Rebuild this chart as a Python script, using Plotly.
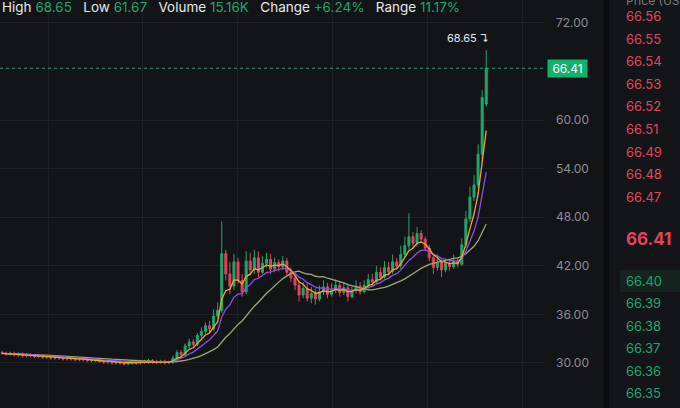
import plotly.graph_objects as go
import pandas as pd

closes = [31.2,31.1,31.2,31.0,31.1,30.9,31.0,30.9,30.8,30.9,30.7,30.8,30.6,30.7,30.6,30.5,30.6,30.5,30.4,30.5,30.4,30.3,30.4,30.3,30.2,
          30.1,30.2,30.0,30.1,30.0,29.9,30.0,30.1,30.0,30.2,30.1,30.3,30.2,30.1,30.2,30.0,30.1,
          30.6,31.3,31.0,32.1,32.6,32.3,33.4,33.9,34.6,34.2,35.8,36.5,
          43.5,41.0,39.5,42.5,40.2,38.8,42.6,41.5,43.0,41.2,42.3,42.8,41.6,42.4,41.9,42.6,41.2,
          40.5,39.6,38.4,39.2,38.0,38.6,37.9,38.8,39.4,38.5,39.0,39.6,38.7,39.3,38.2,39.0,39.5,38.8,
          39.6,40.3,40.0,41.2,40.6,41.8,41.3,42.5,42.0,43.4,
          44.5,45.6,44.8,46.0,45.3,
          44.2,43.0,41.8,42.4,41.5,42.3,41.9,42.6,42.2,
          44.6,47.8,50.5,52.0,55.8,62.8,66.41]
opens = [31.3,31.2,31.1,31.2,31.0,31.1,30.9,31.0,30.9,30.8,30.9,30.7,30.8,30.6,30.7,30.6,30.5,30.6,30.5,30.4,30.5,30.4,30.3,30.4,30.3,
         30.2,30.1,30.2,30.0,30.1,30.0,29.9,30.0,30.1,30.0,30.2,30.1,30.3,30.2,30.1,30.2,30.0,
         30.1,30.6,31.3,31.0,32.1,32.6,32.3,33.4,33.9,34.6,34.2,35.8,
         36.5,43.5,41.0,39.5,42.5,40.2,38.8,42.6,41.5,43.0,41.2,42.3,42.8,41.6,42.4,41.9,42.6,
         41.2,40.5,39.6,38.4,39.2,38.0,38.6,37.9,38.8,39.4,38.5,39.0,39.6,38.7,39.3,38.2,39.0,39.5,
         38.8,39.6,40.3,40.0,41.2,40.6,41.8,41.3,42.5,42.0,
         43.4,44.5,45.6,44.8,46.0,
         45.3,44.2,43.0,41.8,42.4,41.5,42.3,41.9,42.6,
         42.2,44.6,47.8,50.5,52.0,55.8,62.0]
highs = [31.5,31.4,31.4,31.4,31.3,31.3,31.2,31.2,31.1,31.1,31.1,31.0,31.0,30.9,30.9,30.8,30.8,30.8,30.7,30.7,30.7,30.6,30.6,30.6,30.5,
         30.4,30.4,30.4,30.3,30.3,30.2,30.2,30.3,30.3,30.4,30.4,30.5,30.5,30.4,30.4,30.4,30.3,
         30.9,31.6,31.6,32.4,33.0,32.9,33.7,34.4,35.0,35.2,36.6,37.5,
         47.5,44.0,42.5,43.5,43.0,41.0,43.8,43.6,44.0,43.8,43.2,43.6,43.5,43.0,42.8,43.2,43.0,
         41.8,41.0,40.2,40.0,39.8,39.4,39.2,39.6,40.2,39.9,39.8,40.3,40.0,39.9,39.8,39.6,40.2,40.0,
         40.2,41.0,41.0,42.0,41.8,42.6,42.5,43.4,43.0,44.5,
         45.6,48.5,46.2,46.8,46.4,
         45.6,44.6,43.2,43.4,42.8,42.9,42.8,43.4,43.0,
         45.4,48.8,51.8,53.2,57.0,63.7,68.65]
lows = [31.0,30.9,30.9,30.8,30.8,30.7,30.7,30.7,30.6,30.6,30.5,30.5,30.4,30.4,30.4,30.3,30.3,30.3,30.2,30.2,30.2,30.1,30.1,30.1,30.0,
        29.9,29.9,29.8,29.8,29.8,29.7,29.7,29.8,29.8,29.8,29.9,29.9,29.9,29.9,29.9,29.8,29.9,
        29.9,30.3,30.6,30.8,31.6,32.0,32.1,33.1,33.6,33.8,34.0,35.5,
        36.2,40.2,38.5,39.0,39.8,38.2,38.5,40.8,41.0,40.6,41.0,41.8,41.0,41.2,41.3,41.5,40.8,
        40.0,39.0,37.6,38.0,37.6,37.4,37.2,37.6,38.4,38.0,38.2,38.6,38.2,38.4,37.6,38.0,38.6,38.4,
        38.6,39.2,39.4,39.8,40.2,40.4,40.8,41.0,41.6,41.6,
        43.0,44.0,44.2,44.4,44.8,
        43.8,42.6,41.0,41.4,40.6,41.2,41.4,41.6,41.8,
        42.0,44.2,47.4,50.0,51.6,55.0,61.67]
y_ticks = [30, 36, 42, 48, 54, 60, 72]
ask_prices = ["66.56","66.55","66.54","66.53","66.52","66.51","66.49","66.48","66.47"]
bid_prices = ["66.40","66.39","66.38","66.37","66.36","66.35"]
last_price = 66.41
header = [("High","68.65"),("Low","61.67"),("Volume","15.16K"),("Change","+6.24%"),("Range","11.17%")]

idx = list(range(len(closes)))
s = pd.Series(closes)
ma_fast = s.ewm(span=5, adjust=False).mean()
ma_mid = s.ewm(span=10, adjust=False).mean()
ma_slow = s.rolling(20, min_periods=1).mean()

BG = "#131418"
GREEN = "#1fa76b"
RED = "#e2455a"

fig = go.Figure()
fig.add_trace(go.Candlestick(x=idx, open=opens, high=highs, low=lows, close=closes,
                             increasing=dict(line=dict(color=GREEN, width=1), fillcolor=GREEN),
                             decreasing=dict(line=dict(color=RED, width=1), fillcolor=RED),
                             whiskerwidth=0, showlegend=False, hoverinfo="skip"))
fig.add_trace(go.Scatter(x=idx, y=ma_slow, mode="lines", line=dict(color="#9aa873", width=1.3), showlegend=False))
fig.add_trace(go.Scatter(x=idx, y=ma_mid, mode="lines", line=dict(color="#8b4fe6", width=1.3), showlegend=False))
fig.add_trace(go.Scatter(x=idx, y=ma_fast, mode="lines", line=dict(color="#f0a433", width=1.3), showlegend=False))

fig.add_hline(y=last_price, line=dict(color=GREEN, width=1, dash="dot"))

ann = []
parts = [f"<span style='color:#e6e8ec'>{k}</span> <span style='color:{GREEN}'>{v}</span>" for k, v in header]
ann.append(dict(xref="paper", yref="paper", x=0, y=1, xanchor="left", yanchor="top", yshift=3,
                text="&nbsp;&nbsp;&nbsp;".join(parts), showarrow=False, font=dict(size=13.5, family="Inter")))
ann.append(dict(xref="paper", yref="y", x=0.805, y=last_price, xanchor="left", text=" 66.41 ",
                showarrow=False, bgcolor="#10b26c", font=dict(color="white", size=12, family="Inter")))
ann.append(dict(xref="x", yref="y", x=len(closes)-1, y=68.65, xanchor="right", yanchor="bottom", xshift=5, yshift=3,
                text="68.65 ↴", showarrow=False, font=dict(color="#e6e8ec", size=11, family="Inter")))
ann.append(dict(xref="paper", yref="paper", x=0.918, y=1.0, xanchor="left", yanchor="middle",
                text="Price (USD)", showarrow=False, font=dict(color="#777a80", size=12, family="Inter")))
for k, p in enumerate(ask_prices):
    ann.append(dict(xref="paper", yref="paper", x=0.918, y=1 - (16 + k * 22.6) / 408, xanchor="left", yanchor="middle",
                    text=p, showarrow=False, font=dict(color=RED, size=13, family="Inter")))
ann.append(dict(xref="paper", yref="paper", x=0.918, y=1 - 239 / 408, xanchor="left", yanchor="middle",
                text="<b>66.41</b>", showarrow=False, font=dict(color=RED, size=17, family="Inter")))
for k, p in enumerate(bid_prices):
    ann.append(dict(xref="paper", yref="paper", x=0.918, y=1 - (281 + k * 22.4) / 408, xanchor="left", yanchor="middle",
                    text=p, showarrow=False, font=dict(color=GREEN, size=13, family="Inter")))

fig.add_shape(type="rect", xref="paper", yref="paper", x0=0.895, x1=1.0, y0=0, y1=1,
              fillcolor="#141519", line=dict(width=0), layer="below")
fig.add_shape(type="rect", xref="paper", yref="paper", x0=0.888, x1=0.896, y0=0, y1=1,
              fillcolor="#0b0b0d", line=dict(width=0))
fig.add_shape(type="rect", xref="paper", yref="paper", x0=0.912, x1=1.0, y0=1 - 292 / 408, y1=1 - 270 / 408,
              fillcolor="#15241e", line=dict(width=0), layer="below")

fig.update_layout(
    width=680, height=408, autosize=False,
    margin=dict(l=0, r=0, t=0, b=0),
    paper_bgcolor=BG, plot_bgcolor=BG,
    annotations=ann,
    xaxis=dict(domain=[0, 0.80], range=[-0.5, 133.2], rangeslider=dict(visible=False),
               showticklabels=False, showgrid=True, gridcolor="#1f2126", gridwidth=1,
               tick0=11.3, dtick=23.34, tickmode="linear", zeroline=False, showline=False),
    yaxis=dict(side="right", range=[24.44, 74.84], tickvals=y_ticks,
               ticktext=[f"{v:.2f}" for v in y_ticks], showgrid=True, gridcolor="#1f2126",
               tickfont=dict(color="#8b8e95", size=12, family="Inter"), ticklabelstandoff=11,
               zeroline=False, showline=False),
)
fig.write_html("out.html", config={"displayModeBar": False},
               post_script="document.body.style.margin='0';document.body.style.background='#131418';document.body.style.overflow='hidden';")
